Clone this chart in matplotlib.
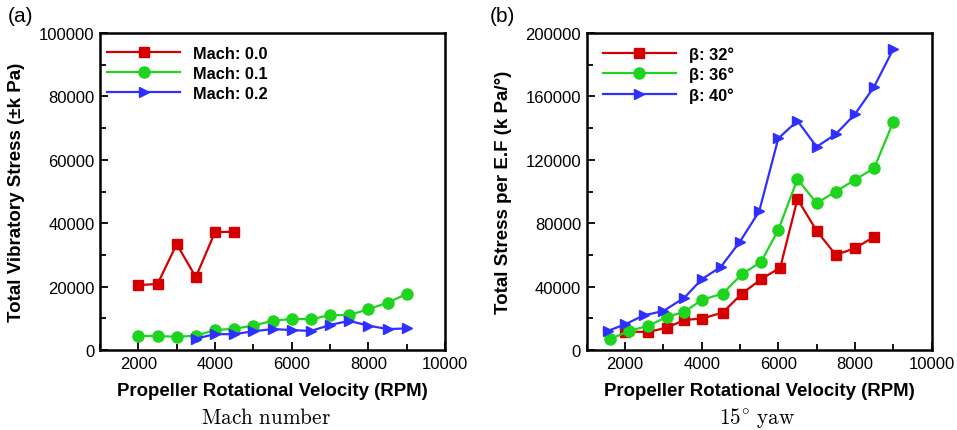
import matplotlib
matplotlib.use('Agg')
import matplotlib.pyplot as plt
from matplotlib.ticker import MultipleLocator

plt.rcParams['font.family'] = ['Liberation Sans', 'DejaVu Sans']
plt.rcParams['mathtext.fontset'] = 'cm'

RED = "#d40000"
GREEN = "#1fd41f"
BLUE = "#2f2fff"

# (a) Mach number sweep
rpm_m00 = [2000, 2500, 3000, 3500, 4000, 4500]
stress_m00 = [20500, 20800, 33400, 23000, 37200, 37300]
rpm_m01 = [2000, 2500, 3000, 3500, 4000, 4500, 5000, 5500, 6000, 6500, 7000, 7500, 8000, 8500, 9000]
stress_m01 = [4500, 4400, 4200, 4500, 6300, 6700, 7700, 9200, 9800, 9700, 11000, 11000, 12900, 14900, 17700]
rpm_m02 = [3500, 4000, 4500, 5000, 5500, 6000, 6500, 7000, 7500, 8000, 8500, 9000]
stress_m02 = [3600, 5000, 5000, 5900, 6600, 6300, 6000, 7900, 9200, 7700, 6600, 6800]

# (b) 15 deg yaw, blade angle sweep
rpm_b32 = [2000, 2600, 3100, 3550, 4000, 4550, 5050, 5550, 6050, 6500, 7000, 7500, 8000, 8500]
stress_b32 = [11600, 11400, 14100, 19000, 19800, 23600, 35600, 44600, 52000, 95200, 75200, 60000, 64200, 71400]
rpm_b36 = [1600, 2100, 2600, 3100, 3550, 4000, 4550, 5050, 5550, 6000, 6500, 7000, 7500, 8000, 8500, 9000]
stress_b36 = [6700, 12000, 15200, 21000, 24000, 31600, 35600, 47800, 55600, 75800, 107800, 92600, 100000, 107400, 114700, 144000]
rpm_b40 = [1550, 2000, 2500, 3000, 3550, 4000, 4500, 5000, 5500, 6000, 6500, 7000, 7500, 8000, 8500, 9000]
stress_b40 = [12000, 16200, 21900, 24600, 33000, 44600, 52400, 68400, 87400, 133500, 144600, 128200, 136200, 148800, 166100, 189900]

labels_a = ["Mach: 0.0", "Mach: 0.1", "Mach: 0.2"]
labels_b = ["β: 32°", "β: 36°", "β: 40°"]


def style_axes(ax, ymax, ymajor, ylabel):
    ax.set_xlim(1000, 10000)
    ax.set_ylim(0, ymax)
    ax.xaxis.set_major_locator(MultipleLocator(2000))
    ax.xaxis.set_minor_locator(MultipleLocator(1000))
    ax.yaxis.set_major_locator(MultipleLocator(ymajor))
    ax.yaxis.set_minor_locator(MultipleLocator(ymajor / 2))
    ax.tick_params(which='both', direction='in', top=False, right=False,
                   labelsize=12, width=1.3, pad=4)
    ax.tick_params(which='major', length=6)
    ax.tick_params(which='minor', length=4)
    for s in ax.spines.values():
        s.set_linewidth(1.8)
    ax.set_xlabel("Propeller Rotational Velocity (RPM)", fontsize=13.4,
                  fontweight='bold', labelpad=8)
    ax.set_ylabel(ylabel, fontsize=13.5, fontweight='bold', labelpad=10)


def draw(ax, series, labels, lx):
    markers = [('s', 6.5), ('o', 8), ('>', 7.5)]
    colors = [RED, GREEN, BLUE]
    for (x, y), lab, (m, ms), c in zip(series, labels, markers, colors):
        ax.plot(x, y, color=c, marker=m, markersize=ms, linewidth=1.6, label=lab)
    ax.legend(loc='upper left', bbox_to_anchor=(lx, 0.981), frameon=False,
              prop={'weight': 'bold', 'size': 11.8}, handlelength=4.45,
              handletextpad=0.8, labelspacing=0.3, borderaxespad=0.03)


fig = plt.figure(figsize=(9.57, 4.31), dpi=100)
ax1 = fig.add_axes([0.1045, 0.1856, 0.3605, 0.7355])
ax2 = fig.add_axes([0.613, 0.1856, 0.3605, 0.7355])

draw(ax1, [(rpm_m00, stress_m00), (rpm_m01, stress_m01), (rpm_m02, stress_m02)], labels_a, 0.0)
style_axes(ax1, 100000, 20000, "Total Vibratory Stress (±k Pa)")

draw(ax2, [(rpm_b32, stress_b32), (rpm_b36, stress_b36), (rpm_b40, stress_b40)], labels_b, 0.026)
style_axes(ax2, 200000, 40000, "Total Stress per E.F (k Pa/°)")

fig.text(0.008, 0.962, "(a)", fontsize=15, ha='left', va='center')
fig.text(0.512, 0.962, "(b)", fontsize=15, ha='left', va='center')
fig.text(0.2775, 0.03, r"$\mathrm{Mach\ number}$", fontsize=15.3, ha='center', va='center')
fig.text(0.7905, 0.03, r"$\mathrm{15^{\circ}\ yaw}$", fontsize=15.3, ha='center', va='center')

fig.savefig("out.png", dpi=100, facecolor='white')
